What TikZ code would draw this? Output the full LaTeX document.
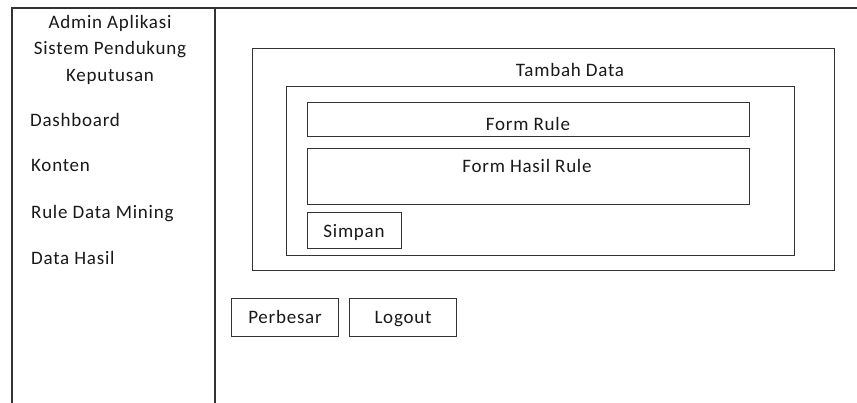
\documentclass[tikz,border=0pt]{standalone}
\usepackage{fontspec}
\setmainfont{Carlito}[LetterSpace=4]
\begin{document}
\begin{tikzpicture}[x=1pt,y=-1pt,
  frame/.style={draw=black!80,line width=1.3pt},
  box/.style={draw=black!80,line width=1.3pt,anchor=north west,inner sep=0pt},
  txt/.style={font=\fontsize{19}{22}\selectfont,text=black!90,inner sep=0pt,
    text height=12.2pt,text depth=0pt},
  menu/.style={txt,anchor=west}]
\useasboundingbox (0,0) rectangle (857,403);
\fill[white] (0,0) rectangle (857,403);
% application frame: sidebar and content area
\coordinate (tl) at (12,8);
\coordinate (tr) at (860,8);
\coordinate (bl) at (12,406);
\coordinate (dt) at (215,8);
\coordinate (db) at (215,406);
\draw[frame] (bl) -- (tl) -- (tr);
\draw[frame] (dt) -- (db);
% sidebar title and menu
\node[txt] (t1) at (110,22.5) {Admin Aplikasi};
\node[txt] (t2) at (110,48.5) {Sistem Pendukung};
\node[txt] (t3) at (110,75) {Keputusan};
\node[menu] (m1) at (30,120.5) {Dashboard};
\node[menu] (m2) at (31,165) {Konten};
\node[menu] (m3) at (31,212) {Rule Data Mining};
\node[menu] (m4) at (31,258.5) {Data Hasil};
% add-data panel
\node[box,minimum width=582pt,minimum height=222pt] (tambah) at (252,48) {};
\node[txt] (tambahlbl) at (570,70) {Tambah Data};
\node[box,minimum width=508pt,minimum height=169pt] (inner) at (286,86) {};
\node[box,minimum width=442pt,minimum height=34pt] (rule) at (307,102) {};
\node[txt] (rulelbl) at (528,124) {Form Rule};
\node[box,minimum width=442pt,minimum height=56pt] (hasil) at (307,148) {};
\node[txt] (hasillbl) at (527,166) {Form Hasil Rule};
\node[box,minimum width=94pt,minimum height=36pt] (simpan) at (307,212) {};
\node[txt] (simpanlbl) at (354,231.5) {Simpan};
% bottom buttons
\node[box,minimum width=107pt,minimum height=38pt] (perbesar) at (231,298) {};
\node[txt] (perbesarlbl) at (285,317.5) {Perbesar};
\node[box,minimum width=107pt,minimum height=38pt] (logout) at (349,298) {};
\node[txt] (logoutlbl) at (403,317.5) {Logout};
\end{tikzpicture}
\end{document}
